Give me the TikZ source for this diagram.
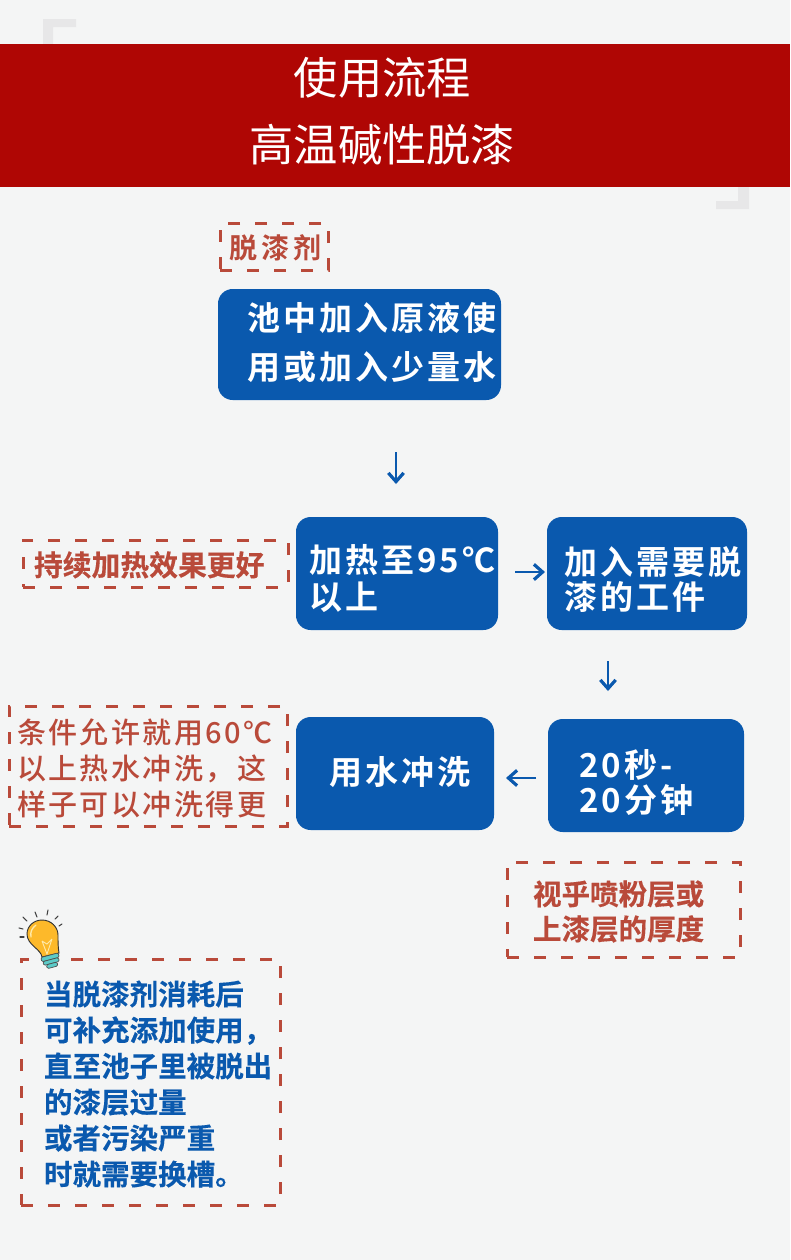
\documentclass[tikz,border=0pt]{standalone}
\usepackage{fontspec}
\usetikzlibrary{arrows.meta}
\newfontfamily\cjkreg{Noto Sans CJK SC}
\newfontfamily\cjkbold{Noto Sans CJK SC Bold}
\newfontfamily\cjkmed{Noto Sans CJK SC Medium}
\definecolor{pagebg}{HTML}{F4F5F5}
\definecolor{bandred}{HTML}{AF0604}
\definecolor{boxblue}{HTML}{0A59AE}
\definecolor{dashred}{HTML}{B94A3A}
\definecolor{cornergrey}{HTML}{E7E7E8}
\definecolor{bulbyellow}{HTML}{FDB92A}
\definecolor{bulblight}{HTML}{FFE9A8}
\definecolor{bulbteal}{HTML}{5CCBC8}
\tikzset{
  x=0.75pt,y=-0.75pt,
  flowbox/.style 2 args={anchor=north west,inner sep=0pt,outer sep=0pt,fill=boxblue,rounded corners=11pt,text=white,
    minimum width=#1 pt,minimum height=#2 pt,text width=#1 pt,align=left},
  notebox/.style 2 args={anchor=north west,inner sep=0pt,outer sep=0pt,draw=dashred,line width=2.25pt,dash pattern=on 9pt off 11.25pt,
    text=dashred,minimum width=#1 pt,minimum height=#2 pt,text width=#1 pt,align=left},
  flow/.style={draw=boxblue,line width=2pt,-{Straight Barb[length=6.5pt,width=11.5pt,line width=2.4pt]}},
  ray/.style={draw=black!75,line width=0.8pt,line cap=round},
  bulbbase/.style={fill=bulbteal,draw=black!70,line width=0.5pt,rounded corners=1pt,rotate around={15:(51,961)}},
}
\newcommand{\bluefont}{\cjkbold\fontsize{24.75}{27}\selectfont\addfontfeature{LetterSpace=9.5}}
\newcommand{\redfont}{\cjkbold\fontsize{21.4}{27}\selectfont\addfontfeature{FakeBold=0.3}}
\begin{document}
\begin{tikzpicture}
\useasboundingbox (0,0) rectangle (790,1260);
\fill[pagebg] (0,0) rectangle (790,1260);
% corner marks
\fill[cornergrey] (43,46) -- (43,19) -- (76,19) -- (76,27) -- (53,27) -- (53,46) -- cycle;
\fill[cornergrey] (738,185) -- (749,185) -- (749,209) -- (716,209) -- (716,201) -- (738,201) -- cycle;
% title band
\node[anchor=north west,inner sep=0pt,outer sep=0pt,fill=bandred,minimum width=592.5pt,minimum height=107.25pt,text=white,align=center,text width=592.5pt]
  (title) at (0,44) {\cjkreg\fontsize{33.2}{50.25}\selectfont\leftskip=0pt plus 1fil\rightskip=19pt plus 1fil 使用流程\\高温碱性脱漆\par\vspace{6pt}};
% flow boxes
\node[flowbox={212.25}{83.25}] (b1) at (218,289)
  {\bluefont\fontsize{24.75}{36.75}\selectfont\leftskip=21.75pt 池中加入原液使\\用或加入少量水\par\vspace{3pt}};
\node[flowbox={151.5}{84.75}] (b2) at (296,517)
  {\bluefont\fontsize{24.75}{27.75}\selectfont\leftskip=9.75pt 加热至95℃\\以上\par\vspace{-8.25pt}};
\node[flowbox={150}{84.75}] (b3) at (547,517)
  {\bluefont\fontsize{24.75}{26.25}\selectfont\leftskip=12.75pt 加入需要脱\\漆的工件\par\vspace{-9.75pt}};
\node[flowbox={148.5}{84.75}] (b4) at (296,717)
  {\bluefont\leftskip=24.75pt 用水冲洗\par\vspace{2pt}};
\node[flowbox={147}{84.75}] (b5) at (548,719)
  {\bluefont\fontsize{24.75}{26.25}\selectfont\leftskip=23.25pt 20秒-\\20分钟\par\vspace{-9.75pt}};
% notes
\node[notebox={81}{35.25}] (n1) at (220,223)
  {\cjkbold\fontsize{21}{27}\selectfont\addfontfeature{LetterSpace=16}\leftskip=6.75pt 脱漆剂\par\vspace{-6pt}};
\node[notebox={198.75}{35.25}] (n2) at (23,540)
  {\redfont\fontsize{21.6}{27}\selectfont\leftskip=8.25pt 持续加热效果更好\par\vspace{-6pt}};
\node[notebox={208.5}{90}] (n3) at (9,706)
  {\cjkmed\fontsize{21.75}{27}\selectfont\addfontfeature{LetterSpace=8.6}\leftskip=6pt 条件允许就用60℃\\以上热水冲洗，这\\样子可以冲洗得更\par\vspace{-3pt}};
\node[notebox={174.75}{71.25}] (n4) at (507,862)
  {\redfont\fontsize{21.4}{26.25}\selectfont\leftskip=19.5pt 视乎喷粉层或\\上漆层的厚度\par\vspace{-3pt}};
\node[notebox={194.25}{184.5},text=boxblue] (n5) at (21,959)
  {\redfont\leftskip=17.25pt 当脱漆剂消耗后\\可补充添加使用，\\直至池子里被脱出\\的漆层过量\\或者污染严重\\时就需要换槽。\par\vspace{-3pt}};
% connectors
\coordinate (a1s) at (396,452); \coordinate (a1e) at (396,484);
\coordinate (a2s) at (515,572); \coordinate (a2e) at (545,572);
\coordinate (a3s) at (608,661); \coordinate (a3e) at (608,691);
\coordinate (a4s) at (536,778); \coordinate (a4e) at (506,778);
\draw[flow] (a1s) -- (a1e);
\draw[flow] (a2s) -- (a2e);
\draw[flow] (a3s) -- (a3e);
\draw[flow] (a4s) -- (a4e);
% light bulb
\foreach \ax/\ay/\bx/\by in {23/917/27/921, 35/912/37/917, 48/910/47/915, 58/916/55/919, 62/924/59/926, 19/928/23/929, 20/937/24/937}
  \draw[ray] (\ax,\ay) -- (\bx,\by);
\draw[fill=bulbyellow,draw=black!80,line width=0.7pt] (42,957)
  .. controls (41,949) and (27,945) .. (27,934)
  .. controls (27,926) and (34,920) .. (42,920)
  .. controls (51,920) and (58,927) .. (58,935)
  .. controls (58,942) and (58,947) .. (59,953) -- cycle;
\draw[bulblight,line width=1pt,line cap=round] (31,937) .. controls (30,932) and (32,928) .. (36,925);
\draw[bulblight,line width=0.7pt] (42,941) -- (47,954) -- (52,939) (42,941) -- (47,944) -- (52,939);
\draw[bulbbase] (42,955) rectangle (60,959.5);
\draw[bulbbase] (43,959.5) rectangle (59,963.5);
\draw[bulbbase] (45.5,963.5) rectangle (56.5,967.5);
\end{tikzpicture}
\end{document}
